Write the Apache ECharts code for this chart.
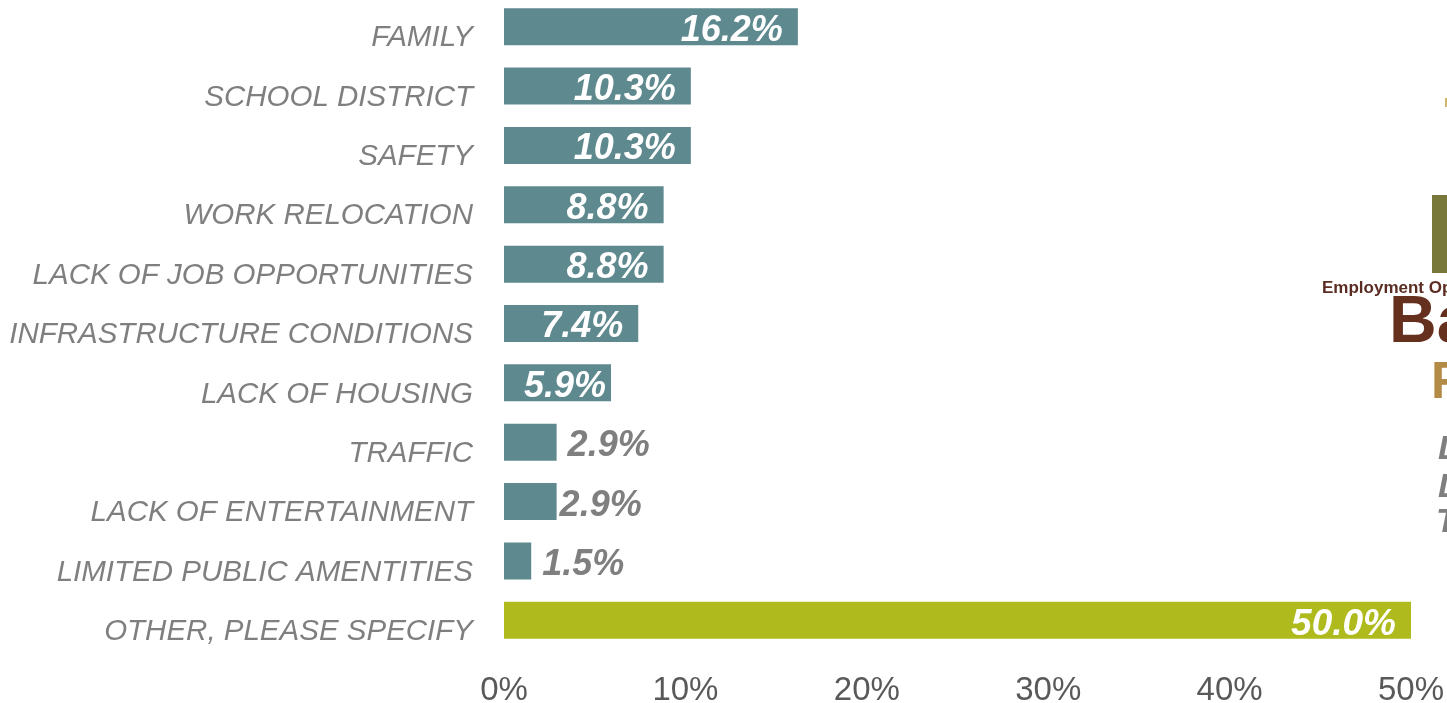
<!DOCTYPE html>
<html>
<head>
<meta charset="utf-8">
<script src="https://cdn.jsdelivr.net/npm/echarts@6/dist/echarts.min.js"></script>
<style>
html,body{margin:0;padding:0;background:#fff;}
#chart{width:1447px;height:703px;}
</style>
</head>
<body>
<div id="chart"></div>
<script>
const categories = [
  'FAMILY','SCHOOL DISTRICT','SAFETY','WORK RELOCATION','LACK OF JOB OPPORTUNITIES',
  'INFRASTRUCTURE CONDITIONS','LACK OF HOUSING','TRAFFIC','LACK OF ENTERTAINMENT',
  'LIMITED PUBLIC AMENTITIES','OTHER, PLEASE SPECIFY'
];
const values = [16.2, 10.3, 10.3, 8.8, 8.8, 7.4, 5.9, 2.9, 2.9, 1.5, 50.0];
const xTicks = [0, 10, 20, 30, 40, 50];

const teal = '#5e898e';
const lime = '#afba1d';
const grey = '#7f7f7f';

const data = values.map((v, i) => {
  const isOther = i === values.length - 1;
  const outside = v < 5;
  let dist = 15;
  if (v < 7) dist = 5;
  if (outside) dist = (i === 8) ? 3 : 11;
  return {
    value: v,
    itemStyle: { color: isOther ? lime : teal },
    label: {
      show: true,
      position: outside ? 'right' : 'insideRight',
      distance: dist,
      offset: [0, 4],
      color: outside ? grey : '#ffffff',
      fontFamily: isOther ? '"Liberation Sans Narrow", "Arial Narrow", sans-serif' : '"Liberation Sans", Arial, sans-serif',
      fontSize: isOther ? 37 : 36,
      fontWeight: 'bold',
      fontStyle: 'italic',
      formatter: p => p.value.toFixed(1) + '%'
    }
  };
});

const chart = echarts.init(document.getElementById('chart'), null, { renderer: 'canvas' });
chart.setOption({
  animation: false,
  backgroundColor: '#ffffff',
  grid: { left: 504, right: 36, top: -3, bottom: 53, containLabel: false, outerBoundsMode: 'none' },
  xAxis: {
    type: 'value',
    min: xTicks[0],
    max: xTicks[xTicks.length - 1],
    interval: 10,
    axisLine: { show: false },
    axisTick: { show: false },
    splitLine: { show: false },
    axisLabel: {
      formatter: v => v + '%',
      color: '#595959',
      fontFamily: '"Liberation Sans Narrow", "Arial Narrow", sans-serif',
      fontSize: 33,
      margin: 24
    }
  },
  yAxis: {
    type: 'category',
    inverse: true,
    data: categories,
    axisLine: { show: false },
    axisTick: { show: false },
    axisLabel: {
      color: grey,
      fontFamily: '"Liberation Sans", Arial, sans-serif',
      fontStyle: 'italic',
      fontSize: 29.5,
      margin: 31,
      verticalAlign: 'top',
      lineHeight: 23
    }
  },
  series: [{
    type: 'bar',
    data: data,
    barWidth: 37
  }],
  graphic: [
    { type: 'rect', shape: { x: 1445, y: 98, width: 3, height: 9 }, style: { fill: '#d2b46e' } },
    { type: 'rect', shape: { x: 1432, y: 195, width: 16, height: 78 }, style: { fill: '#777839' } },
    { type: 'text', x: 1322, y: 288, style: { text: 'Employment Opportunities', fill: '#5a2c22', font: 'bold 17px "Liberation Sans", Arial, sans-serif', verticalAlign: 'middle' } },
    { type: 'text', x: 1389, y: 324, style: { text: 'Bay', fill: '#66301f', font: 'bold 66px "Liberation Sans", Arial, sans-serif', verticalAlign: 'middle' } },
    { type: 'text', x: 1431, y: 384, style: { text: 'F', fill: '#b48a47', font: 'bold 51px "Liberation Sans", Arial, sans-serif', verticalAlign: 'middle' } },
    { type: 'text', x: 1438, y: 450, style: { text: 'L', fill: grey, font: 'italic bold 34px "Liberation Sans", Arial, sans-serif', verticalAlign: 'middle' } },
    { type: 'text', x: 1438, y: 488, style: { text: 'L', fill: grey, font: 'italic bold 34px "Liberation Sans", Arial, sans-serif', verticalAlign: 'middle' } },
    { type: 'text', x: 1436, y: 523, style: { text: 'T', fill: grey, font: 'italic bold 34px "Liberation Sans", Arial, sans-serif', verticalAlign: 'middle' } }
  ]
});
</script>
</body>
</html>
